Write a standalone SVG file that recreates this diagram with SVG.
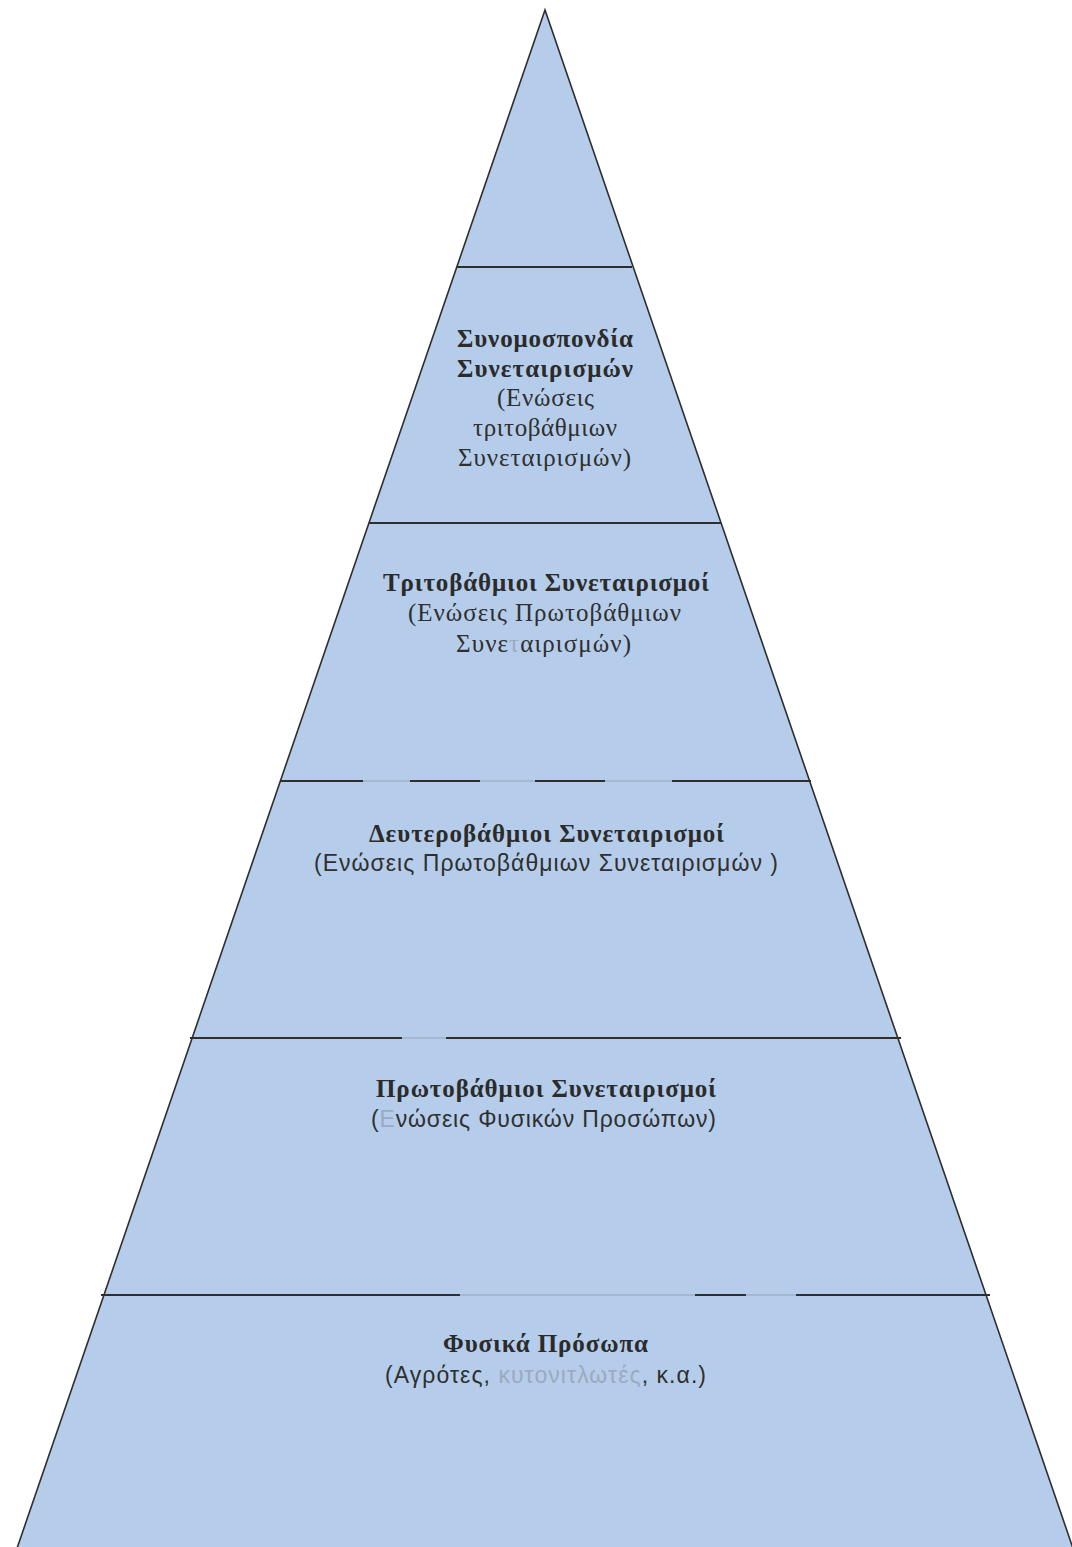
<svg xmlns="http://www.w3.org/2000/svg" width="1072" height="1547" viewBox="0 0 1072 1547">
<style>
.b{font-family:"Liberation Serif",serif;font-weight:bold;font-size:25px;fill:#2b2b2b}
.r{font-family:"Liberation Serif",serif;font-size:25px;fill:#2f2f2f}
.s{font-family:"Liberation Sans",sans-serif;font-size:23px;fill:#2f2f2f}
.f{fill:#9aaac0}
.ln{stroke:#2e2e2e;stroke-width:2;fill:none}
.lf{stroke:#9fb0c6;stroke-width:1.5;fill:none}
</style>
<rect width="1072" height="1547" fill="#ffffff"/>
<g id="pyramid">
<polygon points="545,10 13,1560 1077,1560" fill="#b5cdea" stroke="#2e2e2e" stroke-width="1.6" stroke-linejoin="miter"/>
</g>
<g id="dividers">
<line class="ln" x1="457" y1="267" x2="632" y2="267"/>
<line class="ln" x1="369" y1="523" x2="721" y2="523"/>
<line class="ln" x1="280" y1="781" x2="363" y2="781"/>
<line class="lf" x1="363" y1="781" x2="410" y2="781"/>
<line class="ln" x1="410" y1="781" x2="480" y2="781"/>
<line class="lf" x1="480" y1="781" x2="535" y2="781"/>
<line class="ln" x1="535" y1="781" x2="605" y2="781"/>
<line class="lf" x1="605" y1="781" x2="672" y2="781"/>
<line class="ln" x1="672" y1="781" x2="811" y2="781"/>
<line class="ln" x1="190" y1="1038" x2="402" y2="1038"/>
<line class="lf" x1="402" y1="1038" x2="446" y2="1038"/>
<line class="ln" x1="446" y1="1038" x2="901" y2="1038"/>
<line class="ln" x1="101" y1="1295" x2="460" y2="1295"/>
<line class="lf" x1="460" y1="1295" x2="695" y2="1295"/>
<line class="ln" x1="695" y1="1295" x2="746" y2="1295"/>
<line class="lf" x1="746" y1="1295" x2="796" y2="1295"/>
<line class="ln" x1="796" y1="1295" x2="990" y2="1295"/>
</g>
<g id="level-1">
<text class="b" x="457" y="347" textLength="176" lengthAdjust="spacing">Συνομοσπονδία</text>
<text class="b" x="457" y="377" textLength="176" lengthAdjust="spacing">Συνεταιρισμών</text>
<text class="r" x="497" y="406" textLength="97" lengthAdjust="spacing">(Ενώσεις</text>
<text class="r" x="473" y="436" textLength="144" lengthAdjust="spacing">τριτοβάθμιων</text>
<text class="r" x="458" y="466" textLength="173" lengthAdjust="spacing">Συνεταιρισμών)</text>
</g>
<g id="level-2">
<text class="b" x="383" y="591" textLength="326" lengthAdjust="spacing">Τριτοβάθμιοι Συνεταιρισμοί</text>
<text class="r" x="408" y="621" textLength="273" lengthAdjust="spacing">(Ενώσεις Πρωτοβάθμιων</text>
<text class="r" x="456" y="652" textLength="175" lengthAdjust="spacing">Συνε<tspan class="f">τ</tspan>αιρισμών)</text>
</g>
<g id="level-3">
<text class="b" x="369" y="842" textLength="355" lengthAdjust="spacing">Δευτεροβάθμιοι Συνεταιρισμοί</text>
<text class="s" x="314" y="871" textLength="464" lengthAdjust="spacing">(Ενώσεις Πρωτοβάθμιων Συνεταιρισμών )</text>
</g>
<g id="level-4">
<text class="b" x="376" y="1097" textLength="340" lengthAdjust="spacing">Πρωτοβάθμιοι Συνεταιρισμοί</text>
<text class="s" x="371" y="1127" textLength="345" lengthAdjust="spacing">(<tspan class="f">Ε</tspan>νώσεις Φυσικών Προσώπων)</text>
</g>
<g id="level-5">
<text class="b" x="443" y="1352" textLength="205" lengthAdjust="spacing">Φυσικά Πρόσωπα</text>
<text class="s" x="385" y="1383" textLength="321" lengthAdjust="spacing">(Αγρότες, <tspan class="f">κυτονιτλωτές</tspan>, κ.α.)</text>
</g>
</svg>
